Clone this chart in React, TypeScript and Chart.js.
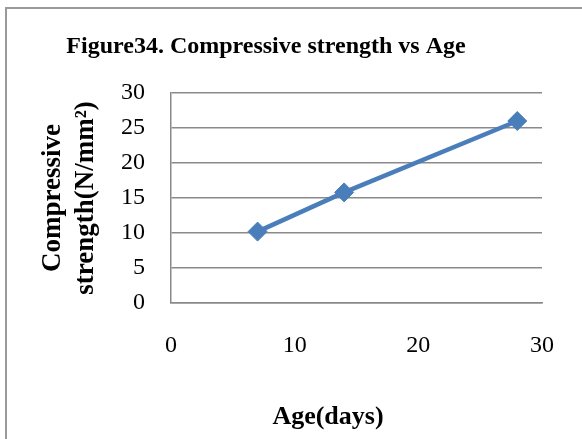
import React, { useEffect, useRef } from "react";
import { Chart, registerables } from "chart.js";

Chart.register(...registerables);

const ages = [7, 14, 28];
const strengths = [10.2, 15.8, 26.0];
const chartTitle = "Figure34. Compressive strength vs Age";
const xTitle = "Age(days)";
const yTitle = ["Compressive", "strength(N/mm\u00B2)"];

const FONT = '"Liberation Serif", "Times New Roman", serif';

const framePlugin = {
  id: "frame",
  beforeDraw(chart: any) {
    const ctx = chart.ctx;
    ctx.save();
    ctx.fillStyle = "#ffffff";
    ctx.fillRect(0, 0, chart.width, chart.height);
    ctx.strokeStyle = "#9a9a9a";
    ctx.lineWidth = 2;
    ctx.strokeRect(6, 8, chart.width + 20, chart.height + 20);
    ctx.restore();
  },
  afterDraw(chart: any) {
    const ctx = chart.ctx;
    ctx.save();
    ctx.fillStyle = "#000000";
    ctx.textAlign = "center";
    ctx.textBaseline = "middle";
    ctx.font = `bold 24px ${FONT}`;
    ctx.fillText(chartTitle, 266, 47);
    ctx.font = `bold 26px ${FONT}`;
    ctx.fillText(xTitle, 328, 417);
    ctx.restore();
  },
};

export default function App() {
  const ref = useRef<HTMLCanvasElement | null>(null);

  useEffect(() => {
    document.body.style.margin = "0";
    if (!ref.current) return;
    const chart = new Chart(ref.current, {
      type: "line",
      data: {
        datasets: [
          {
            data: ages.map((a, i) => ({ x: a, y: strengths[i] })),
            borderColor: "#4A7EBB",
            backgroundColor: "#4A7EBB",
            borderWidth: 4.5,
            pointStyle: "rectRot",
            pointRadius: 9.5,
            pointBorderWidth: 1,
            pointBorderColor: "#4A7EBB",
            pointBackgroundColor: "#4A7EBB",
            fill: false,
            tension: 0,
          },
        ],
      },
      options: {
        animation: false,
        responsive: false,
        maintainAspectRatio: false,
        layout: { padding: { top: 93, left: 10, right: 37, bottom: 0 } },
        plugins: {
          legend: { display: false },
          tooltip: { enabled: false },
          title: { display: false },
        },
        scales: {
          x: {
            type: "linear",
            min: 0,
            max: 30,
            ticks: {
              stepSize: 10,
              padding: 28,
              color: "#000000",
              font: { family: FONT, size: 24 },
            },
            grid: { display: false, drawTicks: false },
            border: { display: true, color: "#8a8a8a", width: 1.5 },
            afterFit: (scale: any) => {
              scale.height = 136;
            },
          },
          y: {
            type: "linear",
            min: 0,
            max: 30,
            ticks: {
              stepSize: 5,
              padding: 26,
              color: "#000000",
              font: { family: FONT, size: 24 },
            },
            grid: { color: "#8a8a8a", lineWidth: 1.5, drawTicks: false },
            border: { display: true, color: "#8a8a8a", width: 1.5 },
            title: {
              display: true,
              text: yTitle,
              color: "#000000",
              font: { family: FONT, size: 27, weight: "bold", lineHeight: 1.2 },
              padding: { top: 27, bottom: 0 },
            },
            afterFit: (scale: any) => {
              scale.width = 161;
            },
          },
        },
      },
      plugins: [framePlugin],
    });
    return () => chart.destroy();
  }, []);

  return (
    <div style={{ position: "absolute", left: 0, top: 0, width: 582, height: 439 }}>
      <canvas ref={ref} width={582} height={439} />
    </div>
  );
}
